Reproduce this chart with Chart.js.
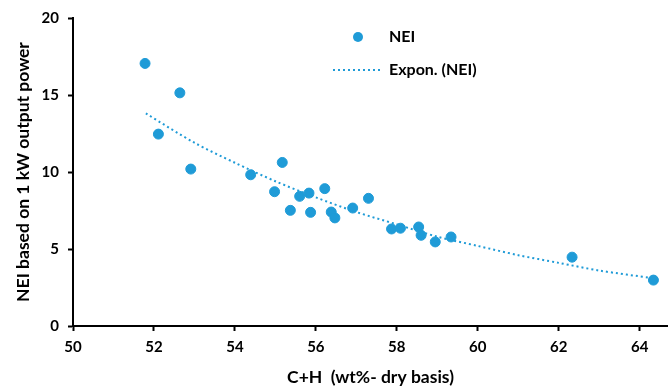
<!DOCTYPE html>
<html>
<head>
<meta charset="utf-8">
<script src="https://cdn.jsdelivr.net/npm/chart.js@4.4.1/dist/chart.umd.min.js"></script>
<style>
    html, body { margin: 0; padding: 0; background: #fff; overflow: hidden; }
    #wrap { width: 668px; height: 389px; }
    canvas { display: block; }
</style>
</head>
<body>
<div id="wrap"><canvas id="nei"></canvas></div>
<script>
// measured points: C+H (wt%, dry) vs NEI
const chValues = [51.78, 52.64, 52.11, 52.91, 54.39, 55.17, 54.98, 55.6, 55.83, 56.22,
    55.37, 55.87, 56.38, 56.47, 56.91, 57.3, 57.87, 58.09, 58.54, 58.6, 58.95, 59.34, 62.33, 64.34];
const neiValues = [17.05, 15.14, 12.46, 10.19, 9.82, 10.62, 8.72, 8.42, 8.63, 8.92,
    7.51, 7.38, 7.4, 7.02, 7.66, 8.29, 6.3, 6.35, 6.43, 5.89, 5.46, 5.78, 4.47, 2.98];

// exponential trendline
const trendX = [51.8, 53, 54, 55, 56, 57, 58, 59, 60, 61, 62, 63, 64.34];
const trendY = [13.8, 11.9, 10.6, 9.4, 8.35, 7.4, 6.6, 5.8, 5.2, 4.6, 4.1, 3.6, 3.1];

const xTicks = [50, 52, 54, 56, 58, 60, 62, 64];
const yTicks = [0, 5, 10, 15, 20];

const blue = "#1f9bd7";
const fontFamily = "Lato, 'Open Sans', sans-serif";

/* x axis runs right up to the canvas edge, as in the original */
const fullWidthX = {
    id: "fullWidthX",
    afterLayout(chart) {
        const x = chart.scales.x;
        x.right = chart.width;
        x.width = x.right - x.left;
        x.configure();
        chart.chartArea.right = x.right;
        chart.chartArea.width = x.right - chart.chartArea.left;
    }
};

/* legend drawn inside the plot, like the original */
const insideLegend = {
    id: "insideLegend",
    afterDraw(chart) {
        const ctx = chart.ctx;
        ctx.save();
        ctx.fillStyle = blue;
        ctx.beginPath();
        ctx.arc(358, 37, 5, 0, Math.PI * 2);
        ctx.fill();

        ctx.strokeStyle = blue;
        ctx.lineWidth = 2;
        ctx.setLineDash([2, 3]);
        ctx.beginPath();
        ctx.moveTo(333, 70);
        ctx.lineTo(382, 70);
        ctx.stroke();
        ctx.setLineDash([]);

        ctx.fillStyle = "#000";
        ctx.font = "bold 16px " + fontFamily;
        ctx.textBaseline = "middle";
        ctx.fillText("NEI", 389, 37);
        ctx.fillText("Expon. (NEI)", 389, 70);
        ctx.restore();
    }
};

new Chart(document.getElementById("nei"), {
    type: "scatter",
    data: {
        datasets: [
            {
                label: "NEI",
                data: chValues.map((x, i) => ({ x: x, y: neiValues[i] })),
                backgroundColor: blue,
                borderColor: blue,
                pointRadius: 5,
                pointHoverRadius: 5,
                order: 1
            },
            {
                label: "Expon. (NEI)",
                type: "line",
                data: trendX.map((x, i) => ({ x: x, y: trendY[i] })),
                borderColor: blue,
                borderWidth: 2,
                borderDash: [2, 3],
                pointRadius: 0,
                tension: 0.3,
                fill: false,
                order: 2
            }
        ]
    },
    options: {
        responsive: true,
        maintainAspectRatio: false,
        animation: false,
        layout: { padding: { top: 17, right: 0, bottom: 0, left: 0 } },
        plugins: {
            legend: { display: false },
            tooltip: { enabled: false }
        },
        scales: {
            x: {
                type: "linear",
                min: 50,
                max: 64.7,
                afterBuildTicks: s => { s.ticks = xTicks.map(v => ({ value: v })); },
                afterFit: s => { s.height = 63; },
                grid: { display: true, drawOnChartArea: false, drawTicks: true, tickLength: 5, tickColor: "#000", tickWidth: 2 },
                border: { display: true, color: "#000", width: 2 },
                ticks: { color: "#000", padding: 7, font: { family: fontFamily, size: 15, weight: "bold" } },
                title: {
                    display: true,
                    text: "C+H  (wt%- dry basis)",
                    color: "#000",
                    padding: { top: 0, bottom: 1 },
                    font: { family: fontFamily, size: 17.5, weight: "bold" }
                }
            },
            y: {
                min: 0,
                max: 20,
                afterBuildTicks: s => { s.ticks = yTicks.map(v => ({ value: v })); },
                afterFit: s => { s.width = 73; },
                grid: { display: true, drawOnChartArea: false, drawTicks: true, tickLength: 5, tickColor: "#000", tickWidth: 2 },
                border: { display: true, color: "#000", width: 2 },
                ticks: { color: "#000", padding: 9, font: { family: fontFamily, size: 15, weight: "bold" } },
                title: {
                    display: true,
                    text: "NEI based on 1 kW output power",
                    color: "#000",
                    padding: { top: 13, bottom: 0 },
                    font: { family: fontFamily, size: 17.5, weight: "bold" }
                }
            }
        }
    },
    plugins: [fullWidthX, insideLegend]
});
</script>
</body>
</html>
